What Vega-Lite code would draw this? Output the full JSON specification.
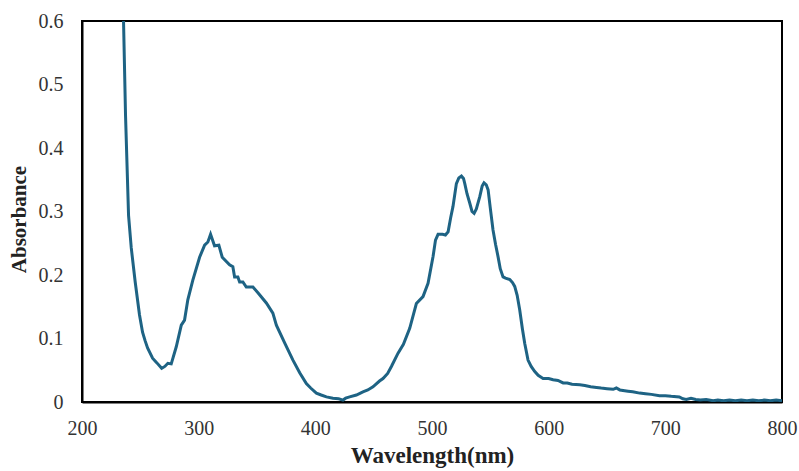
{
  "$schema": "https://vega.github.io/schema/vega-lite/v6.json",
  "width": 700,
  "height": 381,
  "autosize": {"type": "none"},
  "padding": {"left": 82, "top": 21, "right": 17, "bottom": 69},
  "background": "white",
  "config": {
    "view": {"stroke": "black", "strokeWidth": 2},
    "axis": {
      "domain": true,
      "domainColor": "black",
      "domainWidth": 2,
      "ticks": false,
      "tickSize": 0,
      "grid": false,
      "labelFlush": false,
      "labelFont": "Liberation Serif",
      "labelFontSize": 20,
      "labelColor": "#333333",
      "titleFont": "Liberation Serif",
      "titleFontWeight": "bold",
      "titleColor": "#222222"
    }
  },
  "data": {
    "values": [
      {"wavelength": 233, "absorbance": 0.66},
      {"wavelength": 235.6, "absorbance": 0.6},
      {"wavelength": 237.3, "absorbance": 0.452},
      {"wavelength": 239.9, "absorbance": 0.294},
      {"wavelength": 242.2, "absorbance": 0.243},
      {"wavelength": 245.6, "absorbance": 0.189},
      {"wavelength": 249.3, "absorbance": 0.137},
      {"wavelength": 251.9, "absorbance": 0.11},
      {"wavelength": 254, "absorbance": 0.097},
      {"wavelength": 256.2, "absorbance": 0.085},
      {"wavelength": 260.5, "absorbance": 0.069},
      {"wavelength": 264, "absorbance": 0.062},
      {"wavelength": 268.3, "absorbance": 0.053},
      {"wavelength": 271, "absorbance": 0.056},
      {"wavelength": 273.6, "absorbance": 0.061},
      {"wavelength": 276.5, "absorbance": 0.06},
      {"wavelength": 280.8, "absorbance": 0.087},
      {"wavelength": 285.1, "absorbance": 0.121},
      {"wavelength": 287.9, "absorbance": 0.129},
      {"wavelength": 290.7, "absorbance": 0.161},
      {"wavelength": 295.0, "absorbance": 0.192},
      {"wavelength": 300.8, "absorbance": 0.228},
      {"wavelength": 305.1, "absorbance": 0.247},
      {"wavelength": 307.9, "absorbance": 0.252},
      {"wavelength": 310.2, "absorbance": 0.264},
      {"wavelength": 313.6, "absorbance": 0.246},
      {"wavelength": 317.3, "absorbance": 0.247},
      {"wavelength": 320.2, "absorbance": 0.228},
      {"wavelength": 326.5, "absorbance": 0.216},
      {"wavelength": 329.3, "absorbance": 0.213},
      {"wavelength": 330.8, "absorbance": 0.197},
      {"wavelength": 333.6, "absorbance": 0.197},
      {"wavelength": 335.1, "absorbance": 0.189},
      {"wavelength": 337.9, "absorbance": 0.189},
      {"wavelength": 340.8, "absorbance": 0.181},
      {"wavelength": 346.5, "absorbance": 0.181},
      {"wavelength": 350.8, "absorbance": 0.172},
      {"wavelength": 358.0, "absorbance": 0.156},
      {"wavelength": 363.6, "absorbance": 0.14},
      {"wavelength": 366.6, "absorbance": 0.121},
      {"wavelength": 373.7, "absorbance": 0.093},
      {"wavelength": 380.8, "absorbance": 0.066},
      {"wavelength": 386.6, "absorbance": 0.046},
      {"wavelength": 392.3, "absorbance": 0.029},
      {"wavelength": 396, "absorbance": 0.022},
      {"wavelength": 400.9, "absorbance": 0.014},
      {"wavelength": 405, "absorbance": 0.011},
      {"wavelength": 409.5, "absorbance": 0.008},
      {"wavelength": 415.1, "absorbance": 0.006},
      {"wavelength": 420, "absorbance": 0.005},
      {"wavelength": 423.7, "absorbance": 0.003},
      {"wavelength": 426, "absorbance": 0.006},
      {"wavelength": 429.4, "absorbance": 0.008},
      {"wavelength": 435.2, "absorbance": 0.011},
      {"wavelength": 440.8, "absorbance": 0.016},
      {"wavelength": 445, "absorbance": 0.019},
      {"wavelength": 449.4, "absorbance": 0.024},
      {"wavelength": 455, "absorbance": 0.033},
      {"wavelength": 458.0, "absorbance": 0.037},
      {"wavelength": 462, "absorbance": 0.045},
      {"wavelength": 465.2, "absorbance": 0.056},
      {"wavelength": 470.9, "absorbance": 0.077},
      {"wavelength": 475.5, "absorbance": 0.091},
      {"wavelength": 480.9, "absorbance": 0.116},
      {"wavelength": 486.6, "absorbance": 0.155},
      {"wavelength": 492.3, "absorbance": 0.166},
      {"wavelength": 496.6, "absorbance": 0.187},
      {"wavelength": 500.9, "absorbance": 0.229},
      {"wavelength": 503, "absorbance": 0.255},
      {"wavelength": 505.2, "absorbance": 0.264},
      {"wavelength": 509, "absorbance": 0.264},
      {"wavelength": 511.5, "absorbance": 0.263},
      {"wavelength": 513.8, "absorbance": 0.268},
      {"wavelength": 516, "absorbance": 0.29},
      {"wavelength": 518.0, "absorbance": 0.308},
      {"wavelength": 520.9, "absorbance": 0.344},
      {"wavelength": 523, "absorbance": 0.353},
      {"wavelength": 525.2, "absorbance": 0.356},
      {"wavelength": 527, "absorbance": 0.352},
      {"wavelength": 528.1, "absorbance": 0.344},
      {"wavelength": 530, "absorbance": 0.328},
      {"wavelength": 532.4, "absorbance": 0.313},
      {"wavelength": 534.3, "absorbance": 0.3},
      {"wavelength": 536.1, "absorbance": 0.297},
      {"wavelength": 538, "absorbance": 0.304},
      {"wavelength": 540.9, "absorbance": 0.323},
      {"wavelength": 543, "absorbance": 0.34},
      {"wavelength": 544.6, "absorbance": 0.345},
      {"wavelength": 546.5, "absorbance": 0.342},
      {"wavelength": 548.1, "absorbance": 0.334},
      {"wavelength": 550, "absorbance": 0.305},
      {"wavelength": 552.3, "absorbance": 0.271},
      {"wavelength": 554.5, "absorbance": 0.248},
      {"wavelength": 556.6, "absorbance": 0.229},
      {"wavelength": 558.5, "absorbance": 0.21},
      {"wavelength": 560.9, "absorbance": 0.197},
      {"wavelength": 563, "absorbance": 0.195},
      {"wavelength": 566.7, "absorbance": 0.193},
      {"wavelength": 569, "absorbance": 0.188},
      {"wavelength": 570.9, "absorbance": 0.182},
      {"wavelength": 573, "absorbance": 0.168},
      {"wavelength": 575.2, "absorbance": 0.145},
      {"wavelength": 577.5, "absorbance": 0.115},
      {"wavelength": 579.5, "absorbance": 0.092},
      {"wavelength": 582.3, "absorbance": 0.066},
      {"wavelength": 585, "absorbance": 0.056},
      {"wavelength": 588.1, "absorbance": 0.048},
      {"wavelength": 591, "absorbance": 0.042},
      {"wavelength": 595.2, "absorbance": 0.037},
      {"wavelength": 600, "absorbance": 0.037},
      {"wavelength": 603.8, "absorbance": 0.035},
      {"wavelength": 608, "absorbance": 0.034},
      {"wavelength": 612.4, "absorbance": 0.03},
      {"wavelength": 616, "absorbance": 0.03},
      {"wavelength": 620, "absorbance": 0.028},
      {"wavelength": 626.7, "absorbance": 0.027},
      {"wavelength": 631, "absorbance": 0.026},
      {"wavelength": 636, "absorbance": 0.024},
      {"wavelength": 641, "absorbance": 0.023},
      {"wavelength": 645, "absorbance": 0.022},
      {"wavelength": 650, "absorbance": 0.021},
      {"wavelength": 655.3, "absorbance": 0.02},
      {"wavelength": 658, "absorbance": 0.022},
      {"wavelength": 661, "absorbance": 0.019},
      {"wavelength": 668, "absorbance": 0.017},
      {"wavelength": 672, "absorbance": 0.016},
      {"wavelength": 678, "absorbance": 0.014},
      {"wavelength": 683, "absorbance": 0.013},
      {"wavelength": 688, "absorbance": 0.012},
      {"wavelength": 695, "absorbance": 0.01},
      {"wavelength": 700, "absorbance": 0.01},
      {"wavelength": 705, "absorbance": 0.009},
      {"wavelength": 712, "absorbance": 0.008},
      {"wavelength": 715, "absorbance": 0.005},
      {"wavelength": 718, "absorbance": 0.004},
      {"wavelength": 722, "absorbance": 0.006},
      {"wavelength": 726, "absorbance": 0.004},
      {"wavelength": 730, "absorbance": 0.003},
      {"wavelength": 735, "absorbance": 0.004},
      {"wavelength": 741, "absorbance": 0.002},
      {"wavelength": 745, "absorbance": 0.003},
      {"wavelength": 750, "absorbance": 0.002},
      {"wavelength": 755, "absorbance": 0.003},
      {"wavelength": 760, "absorbance": 0.002},
      {"wavelength": 765, "absorbance": 0.003},
      {"wavelength": 770, "absorbance": 0.002},
      {"wavelength": 775, "absorbance": 0.003},
      {"wavelength": 780, "absorbance": 0.002},
      {"wavelength": 785, "absorbance": 0.003},
      {"wavelength": 790, "absorbance": 0.002},
      {"wavelength": 795, "absorbance": 0.003},
      {"wavelength": 800, "absorbance": 0.002}
    ]
  },
  "mark": {"type": "line", "color": "#1e6384", "strokeWidth": 3, "clip": true},
  "encoding": {
    "x": {
      "field": "wavelength",
      "type": "quantitative",
      "scale": {"domain": [200, 800], "nice": false, "zero": false},
      "axis": {
        "title": "Wavelength(nm)",
        "values": [200, 300, 400, 500, 600, 700, 800],
        "labelPadding": 16,
        "titleFontSize": 23,
        "titlePadding": 6
      }
    },
    "y": {
      "field": "absorbance",
      "type": "quantitative",
      "scale": {"domain": [0, 0.6], "nice": false},
      "axis": {
        "title": "Absorbance",
        "values": [0, 0.1, 0.2, 0.3, 0.4, 0.5, 0.6],
        "format": "~g",
        "labelPadding": 19,
        "titleFontSize": 21,
        "titlePadding": 9,
        "titleY": 198
      }
    }
  }
}
